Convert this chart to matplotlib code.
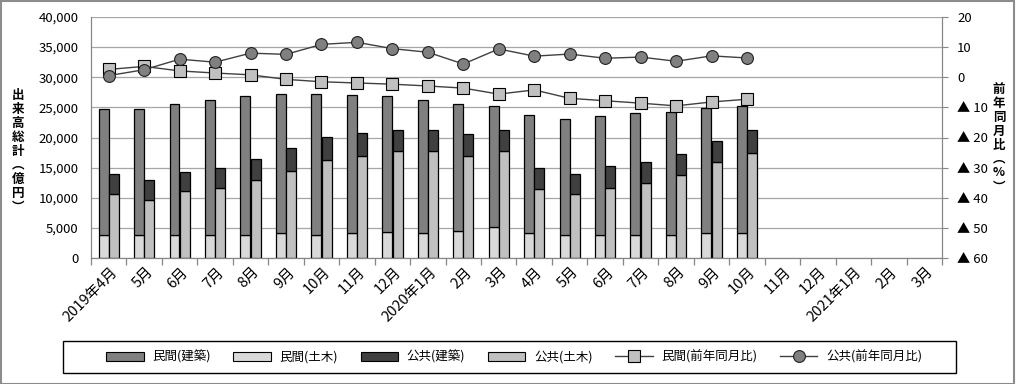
import numpy as np
import matplotlib
matplotlib.use("Agg")
import matplotlib.pyplot as plt
from matplotlib.patches import Patch, Rectangle
from matplotlib.lines import Line2D
from matplotlib.ticker import FuncFormatter
import matplotlib.transforms as mtrans

plt.rcParams['font.family'] = ['Noto Sans CJK JP', 'DejaVu Sans']

# ---------------- data ----------------
months = ["2019年4月", "5月", "6月", "7月", "8月", "9月", "10月", "11月", "12月",
          "2020年1月", "2月", "3月", "4月", "5月", "6月", "7月", "8月", "9月", "10月",
          "11月", "12月", "2021年1月", "2月", "3月"]

# 民間 (億円)
priv_doboku = [3760, 3900, 3900, 3760, 3900, 4100, 3900, 4100, 4250, 4100, 4400, 5100,
               4100, 3760, 3900, 3760, 3760, 4100, 4100]
priv_total = [24800, 24800, 25600, 26300, 26960, 27300, 27300, 27100, 26960, 26300, 25600, 25300,
              23800, 23150, 23650, 24000, 24250, 24970, 25300]
# 公共 (億円)
pub_doboku = [10700, 9700, 11100, 11550, 12870, 14500, 16200, 17000, 17700, 17700, 16850, 17700,
              11400, 10550, 11700, 12400, 13700, 15860, 17500]
pub_total = [13870, 12870, 14200, 14860, 16350, 18300, 20000, 20800, 21300, 21300, 20500, 21300,
             14860, 13870, 15200, 15860, 17200, 19500, 21300]
# 前年同月比 (%)
priv_yoy = [2.6, 3.6, 2.1, 1.4, 0.8, -0.7, -1.5, -1.9, -2.3, -2.9, -3.6, -5.6,
            -4.2, -7.0, -7.8, -8.6, -9.5, -8.2, -7.3]
pub_yoy = [0.55, 2.5, 6.0, 5.0, 8.0, 7.6, 10.9, 11.6, 9.5, 8.3, 4.4, 9.4,
           7.0, 7.7, 6.3, 6.7, 5.3, 7.1, 6.4]

legend_labels = ["民間(建築)", "民間(土木)", "公共(建築)", "公共(土木)",
                 "民間(前年同月比)", "公共(前年同月比)"]

# ---------------- styles ----------------
c_priv_ken = '#808080'
c_priv_dob = '#d9d9d9'
c_pub_ken = '#404040'
c_pub_dob = '#c0c0c0'
grid_c = '#a6a6a6'
spine_c = '#868686'

W, H = 1016, 384
fig = plt.figure(figsize=(W / 100, H / 100), dpi=100)
ax = fig.add_axes([91 / W, 1 - 258 / H, (942 - 91) / W, (258 - 17) / H])
ax2 = ax.twinx()

n = len(priv_total)
x = np.arange(n)
bw = 0.28
off = 0.145
priv_ken = np.array(priv_total) - np.array(priv_doboku)
pub_ken = np.array(pub_total) - np.array(pub_doboku)

ax.bar(x - off, priv_doboku, bw, color=c_priv_dob, edgecolor='black', linewidth=0.9, zorder=2)
ax.bar(x - off, priv_ken, bw, bottom=priv_doboku, color=c_priv_ken, edgecolor='black', linewidth=0.9, zorder=2)
ax.bar(x + off, pub_doboku, bw, color=c_pub_dob, edgecolor='black', linewidth=0.9, zorder=2)
ax.bar(x + off, pub_ken, bw, bottom=pub_doboku, color=c_pub_ken, edgecolor='black', linewidth=0.9, zorder=2)

ax.set_xlim(-0.5, len(months) - 0.5)
ax.set_ylim(0, 40000)
ax.set_yticks(np.arange(0, 40001, 5000))
ax.yaxis.set_major_formatter(FuncFormatter(lambda v, p: f"{int(v):,}"))
ax.grid(axis='y', color=grid_c, linewidth=0.9)
ax.set_axisbelow(True)
ax.tick_params(axis='y', length=0, pad=9, labelsize=9.5)

ax.set_xticks(np.arange(len(months)))
ax.set_xticklabels(months, rotation=45, ha='right', va='top', rotation_mode='anchor', fontsize=10.5)
ax.set_xticks(np.arange(len(months) + 1) - 0.5, minor=True)
ax.tick_params(axis='x', which='major', length=0, pad=5)
ax.tick_params(axis='x', which='minor', length=5, color=spine_c, width=0.9)
shift = mtrans.ScaledTranslation(1.5 / 100, 0, fig.dpi_scale_trans)
for lab in ax.get_xticklabels():
    lab.set_transform(lab.get_transform() + shift)

for side in ['left', 'bottom', 'right']:
    ax.spines[side].set_color(spine_c)
    ax2.spines[side].set_color(spine_c)
ax.spines['top'].set_visible(False)
ax2.spines['top'].set_visible(False)

# right axis
ax2.plot(x, priv_yoy, color='#404040', linewidth=1.0, marker='s', markersize=8,
         markerfacecolor='#c0c0c0', markeredgecolor='black', markeredgewidth=0.8, zorder=3)
ax2.plot(x, pub_yoy, color='#404040', linewidth=1.0, marker='o', markersize=8.5,
         markerfacecolor='#808080', markeredgecolor='#202020', markeredgewidth=0.8, zorder=3)
ax2.set_ylim(-60, 20)
ax2.set_yticks(np.arange(-60, 21, 10))
ax2.yaxis.set_major_formatter(FuncFormatter(lambda v, p: f"▲ {int(-v)}" if v < 0 else f"{int(v)}"))
ax2.tick_params(axis='y', length=4, color=spine_c, pad=7, labelsize=9.5)

# axis titles (vertical text)
fig.text(18 / W, 1 - 151 / H, "出\n来\n高\n総\n計\n︵\n億\n円\n︶", ha='center', va='center',
         fontsize=9, fontweight='bold', linespacing=1.1)
fig.text(999 / W, 1 - 138 / H, "前\n年\n同\n月\n比\n︵\n%\n︶", ha='center', va='center',
         fontsize=9, fontweight='bold', linespacing=1.1)

# legend
handles = [
    Patch(facecolor=c_priv_ken, edgecolor='black', linewidth=0.8),
    Patch(facecolor=c_priv_dob, edgecolor='black', linewidth=0.8),
    Patch(facecolor=c_pub_ken, edgecolor='black', linewidth=0.8),
    Patch(facecolor=c_pub_dob, edgecolor='black', linewidth=0.8),
    Line2D([], [], color='#404040', linewidth=1.0, marker='s', markersize=8,
           markerfacecolor='#c0c0c0', markeredgecolor='black', markeredgewidth=0.8),
    Line2D([], [], color='#404040', linewidth=1.0, marker='o', markersize=8.5,
           markerfacecolor='#808080', markeredgecolor='#202020', markeredgewidth=0.8),
]
fig.legend(handles, legend_labels, loc='center', bbox_to_anchor=(514 / W, 1 - 357 / H),
           ncol=6, frameon=False, fontsize=9, handlelength=3.0, handleheight=0.7,
           handletextpad=0.7, columnspacing=1.8, borderpad=0)
fig.add_artist(Rectangle((63 / W, 1 - 373 / H), (956 - 63) / W, 32 / H, transform=fig.transFigure,
                         fill=False, edgecolor='black', linewidth=1.0))
# outer frame
fig.add_artist(Rectangle((0.5 / W, 0.5 / H), (W - 3) / W, (H - 1.5) / H, transform=fig.transFigure,
                         fill=False, edgecolor='#8c8c8c', linewidth=1.5))

fig.savefig("out.png", dpi=100)
